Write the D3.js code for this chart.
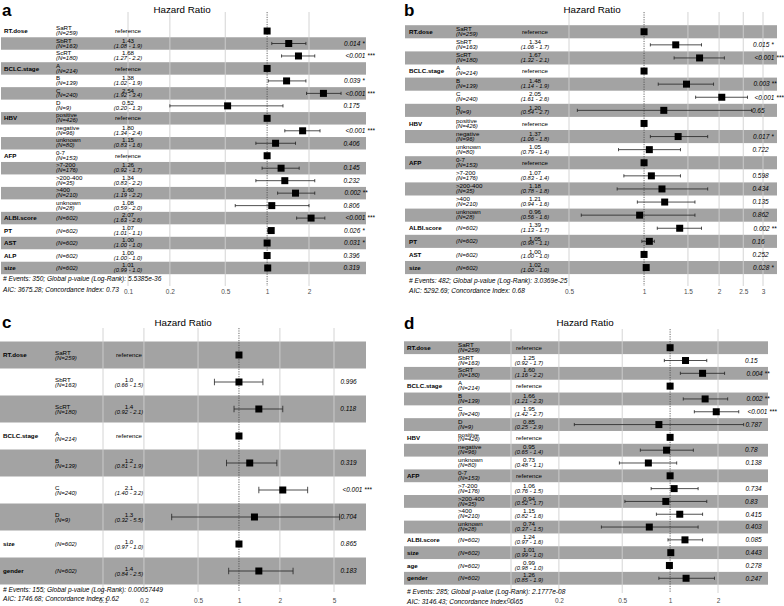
<!DOCTYPE html>
<html>
<head>
<meta charset="utf-8">
<script src="https://cdn.jsdelivr.net/npm/d3@7"></script>
<style>
body{margin:0;background:#fff;}
svg text{font-family:"Liberation Sans",Arial,sans-serif;}
</style>
</head>
<body>
<div id="chart"></div>
<script>
// rows: [variable, level, N, HR, CI low, CI high, p] -- reference rows stop after N
const rowsA = [
    ['RT.dose','SaRT',259],
    ['','SbRT',163,1.43,1.08,1.9,'0.014'],
    ['','ScRT',180,1.68,1.27,2.2,'<0.001'],
    ['BCLC.stage','A',214],
    ['','B',139,1.38,1.02,1.9,'0.039'],
    ['','C',240,2.54,1.92,3.4,'<0.001'],
    ['','D',9,0.52,0.20,1.3,'0.175'],
    ['HBV','positive',426],
    ['','negative',96,1.80,1.34,2.4,'<0.001'],
    ['','unknown',80,1.15,0.83,1.6,'0.406'],
    ['AFP','0-7',153],
    ['','>7-200',176,1.26,0.92,1.7,'0.145'],
    ['','>200-400',35,1.34,0.83,2.2,'0.232'],
    ['','>400',210,1.60,1.19,2.2,'0.002'],
    ['','unknown',28,1.08,0.59,2.0,'0.806'],
    ['ALBI.score','',602,2.07,1.63,2.6,'<0.001'],
    ['PT','',602,1.07,1.01,1.1,'0.026'],
    ['AST','',602,1.00,1.00,1.0,'0.031'],
    ['ALP','',602,1.00,1.00,1.0,'0.396'],
    ['size','',602,1.01,0.99,1.0,'0.319']
];
const rowsB = [
    ['RT.dose','SaRT',259],
    ['','SbRT',163,1.34,1.06,1.7,'0.015'],
    ['','ScRT',180,1.67,1.32,2.1,'<0.001'],
    ['BCLC.stage','A',214],
    ['','B',139,1.48,1.14,1.9,'0.003'],
    ['','C',240,2.05,1.61,2.6,'<0.001'],
    ['','D',9,1.20,0.54,2.7,'0.65'],
    ['HBV','positive',426],
    ['','negative',96,1.37,1.06,1.8,'0.017'],
    ['','unknown',80,1.05,0.79,1.4,'0.722'],
    ['AFP','0-7',153],
    ['','>7-200',176,1.07,0.83,1.4,'0.598'],
    ['','>200-400',35,1.18,0.78,1.8,'0.434'],
    ['','>400',210,1.21,0.94,1.6,'0.135'],
    ['','unknown',28,0.96,0.56,1.6,'0.862'],
    ['ALBI.score','',602,1.39,1.13,1.7,'0.002'],
    ['PT','',602,1.05,0.98,1.1,'0.16'],
    ['AST','',602,1.00,1.00,1.0,'0.252'],
    ['size','',602,1.02,1.00,1.0,'0.028']
];
const rowsC = [
    ['RT.dose','SaRT',259],
    ['','SbRT',163,1.0,0.66,1.5,'0.996'],
    ['','ScRT',180,1.4,0.92,2.1,'0.118'],
    ['BCLC.stage','A',214],
    ['','B',139,1.2,0.81,1.9,'0.319'],
    ['','C',240,2.1,1.40,3.2,'<0.001'],
    ['','D',9,1.3,0.32,5.5,'0.704'],
    ['size','',602,1.0,0.97,1.0,'0.865'],
    ['gender','',602,1.4,0.84,2.5,'0.183']
];
const rowsD = [
    ['RT.dose','SaRT',259],
    ['','SbRT',163,1.25,0.92,1.7,'0.15'],
    ['','ScRT',180,1.60,1.16,2.2,'0.004'],
    ['BCLC.stage','A',214],
    ['','B',139,1.66,1.21,2.3,'0.002'],
    ['','C',240,1.95,1.42,2.7,'<0.001'],
    ['','D',9,0.85,0.25,2.9,'0.787'],
    ['HBV','positive',426],
    ['','negative',96,0.95,0.65,1.4,'0.78'],
    ['','unknown',80,0.73,0.48,1.1,'0.138'],
    ['AFP','0-7',153],
    ['','>7-200',176,1.06,0.76,1.5,'0.734'],
    ['','>200-400',35,0.94,0.52,1.7,'0.83'],
    ['','>400',210,1.15,0.82,1.6,'0.415'],
    ['','unknown',28,0.74,0.37,1.5,'0.403'],
    ['ALBI.score','',602,1.24,0.97,1.6,'0.085'],
    ['size','',602,1.01,0.99,1.0,'0.443'],
    ['age','',602,0.99,0.98,1.0,'0.278'],
    ['gender','',602,1.26,0.85,1.9,'0.247']
];

const ticksA = [0.1, 0.2, 0.5, 1, 2];
const ticksB = [0.5, 1, 1.5, 2, 2.5, 3];
const ticksC = [0.1, 0.2, 0.5, 1, 2, 5];
const ticksD = [0.1, 0.2, 0.5, 1, 2];

const footA = ['# Events: 350; Global p-value (Log-Rank): 5.5385e-36', 'AIC: 3675.28; Concordance Index: 0.73'];
const footB = ['# Events: 482; Global p-value (Log-Rank): 3.0369e-25', 'AIC: 5292.69; Concordance Index: 0.68'];
const footC = ['# Events: 155; Global p-value (Log-Rank): 0.00057449', 'AIC: 1746.68; Concordance Index: 0.62'];
const footD = ['# Events: 285; Global p-value (Log-Rank): 2.1777e-08', 'AIC: 3146.43; Concordance Index: 0.65'];

// layout of each panel (pixel positions)
const panels = [
    {letter:'a', rows:rowsA, ticks:ticksA, foot:footA, lx:2, ly:16, band:[1,366], top:24.8, rowH:12.47, shade:1,
     xVar:4, xLvl:56, xEst:128, dom:[0.1,2], rng:[128,309], grid:[12,286], tickY:296.5, title:[182,13],
     px:341, footXY:[3,280.5,291.5], off:[-3,2], estFmt:'fixed'},
    {letter:'b', rows:rowsB, ticks:ticksB, foot:footB, lx:404, ly:16, band:[405,777], top:25.2, rowH:13.1, shade:0,
     xVar:409, xLvl:456, xEst:535, dom:[0.5,3], rng:[569,763], grid:[12,286], tickY:296.5, title:[592,13],
     px:750, footXY:[409,283,293], off:[-3,2], estFmt:'fixed'},
    {letter:'c', rows:rowsC, ticks:ticksC, foot:footC, lx:2, ly:328, band:[0,366], top:341.5, rowH:27, shade:0,
     xVar:3, xLvl:55, xEst:129, dom:[0.1,5], rng:[103,334], grid:[328,592], tickY:605.5, title:[183,326],
     px:338, footXY:[3,591.5,600.5], off:[-2.2,2.8], estFmt:'prec'},
    {letter:'d', rows:rowsD, ticks:ticksD, foot:footD, lx:404, ly:329, band:[404,768], top:341.3, rowH:12.81, shade:0,
     xVar:407, xLvl:458, xEst:529, dom:[0.1,2], rng:[511,718], grid:[329,593], tickY:605.5, title:[585,326],
     px:743, footXY:[407,593.5,603.5], off:[-3,2], estFmt:'fixed'}
];

const W = 784, H = 606;
const svg = d3.select('#chart').append('svg').attr('width', W).attr('height', H);

function stars(p){
    let v = p.startsWith('<') ? 0.0005 : +p;
    return v < 0.001 ? ' ***' : v < 0.01 ? ' **' : v < 0.05 ? ' *' : '';
}

panels.forEach(function(P){
    let g = svg.append('g');
    let x = d3.scaleLog().domain(P.dom).range(P.rng);
    let y = d3.scaleBand().domain(d3.range(P.rows.length))
        .range([P.top, P.top + P.rowH * P.rows.length]).padding(0);
    let cy = i => y(i) + y.bandwidth() / 2;

    // alternating stripes
    g.selectAll('.band').data(P.rows.map((r, i) => i).filter(i => i % 2 === P.shade))
        .enter().append('rect').attr('class', 'band')
        .attr('x', P.band[0]).attr('width', P.band[1] - P.band[0])
        .attr('y', i => y(i)).attr('height', y.bandwidth())
        .attr('fill', '#a3a3a3');

    // grid lines
    g.selectAll('.grid').data(P.ticks.filter(t => t !== 1)).enter().append('line')
        .attr('x1', d => x(d)).attr('x2', d => x(d))
        .attr('y1', P.grid[0]).attr('y2', P.grid[1])
        .attr('stroke', '#cfcfcf').attr('stroke-width', 0.9);
    g.append('line')
        .attr('x1', x(1)).attr('x2', x(1)).attr('y1', P.grid[0]).attr('y2', P.grid[1])
        .attr('stroke', '#444').attr('stroke-width', 0.8).attr('stroke-dasharray', '1.2,1.2');

    // x axis labels only
    let ax = g.append('g').attr('transform', 'translate(0,' + (P.tickY - 7) + ')')
        .call(d3.axisBottom(x).tickValues(P.ticks).tickSize(0).tickFormat(d3.format('')));
    ax.select('.domain').remove();
    ax.selectAll('text').attr('font-size', 6.5).attr('fill', '#4d4d4d')
        .attr('font-family', '"Liberation Sans",Arial,sans-serif').attr('dy', '0.71em').attr('y', 0);

    // title + panel letter
    g.append('text').attr('x', P.title[0]).attr('y', P.title[1]).attr('text-anchor', 'middle')
        .attr('font-size', 9.8).text('Hazard Ratio');
    g.append('text').attr('x', P.lx).attr('y', P.ly).attr('font-size', 17).attr('font-weight', 'bold')
        .text(P.letter);

    P.rows.forEach(function(r, i){
        let c = cy(i);
        let isRef = r.length < 4;
        if (r[0]) g.append('text').attr('x', P.xVar).attr('y', c).attr('dy', '0.35em')
            .attr('font-size', 6.2).attr('font-weight', 'bold').text(r[0]);
        if (r[1]) {
            g.append('text').attr('x', P.xLvl).attr('y', c + P.off[0]).attr('dy', '0.35em')
                .attr('font-size', 6.2).text(r[1]);
            g.append('text').attr('x', P.xLvl).attr('y', c + P.off[1]).attr('dy', '0.35em')
                .attr('font-size', 6).attr('font-style', 'italic').text('(N=' + r[2] + ')');
        } else {
            g.append('text').attr('x', P.xLvl).attr('y', c).attr('dy', '0.35em')
                .attr('font-size', 6).attr('font-style', 'italic').text('(N=' + r[2] + ')');
        }
        if (isRef) {
            g.append('text').attr('x', P.xEst).attr('y', c).attr('dy', '0.35em').attr('text-anchor', 'middle')
                .attr('font-size', 6.2).text('reference');
        } else {
            let est = P.estFmt === 'fixed' ? r[3].toFixed(2) : r[3].toPrecision(2);
            g.append('text').attr('x', P.xEst).attr('y', c + P.off[0]).attr('dy', '0.35em').attr('text-anchor', 'middle')
                .attr('font-size', 6.2).text(est);
            g.append('text').attr('x', P.xEst).attr('y', c + P.off[1]).attr('dy', '0.35em').attr('text-anchor', 'middle')
                .attr('font-size', 5.8).attr('font-style', 'italic')
                .text('(' + r[4].toFixed(2) + ' - ' + r[5].toPrecision(2) + ')');
            // whisker with caps
            let cap = Math.max(1.6, P.rowH * 0.12);
            g.append('line').attr('x1', x(r[4])).attr('x2', x(r[5])).attr('y1', c).attr('y2', c)
                .attr('stroke', '#222').attr('stroke-width', 0.8);
            [r[4], r[5]].forEach(v => g.append('line').attr('x1', x(v)).attr('x2', x(v))
                .attr('y1', c - cap).attr('y2', c + cap).attr('stroke', '#222').attr('stroke-width', 0.8));
            let t = g.append('text').attr('y', c).attr('dy', '0.35em')
                .attr('font-size', 6.5).attr('font-style', 'italic').text(r[6] + stars(r[6]));
            let len = t.node().getComputedTextLength();
            t.attr('x', P.px + 0.15 * len);
        }
        let hr = isRef ? 1 : r[3];
        g.append('rect').attr('x', x(hr) - 3.5).attr('y', c - 3.5).attr('width', 7).attr('height', 7)
            .attr('fill', '#000');
    });

    P.foot.forEach(function(s, k){
        g.append('text').attr('x', P.footXY[0]).attr('y', P.footXY[k + 1])
            .attr('font-size', 6.6).attr('font-style', 'italic').text(s);
    });
});
</script>
</body>
</html>
